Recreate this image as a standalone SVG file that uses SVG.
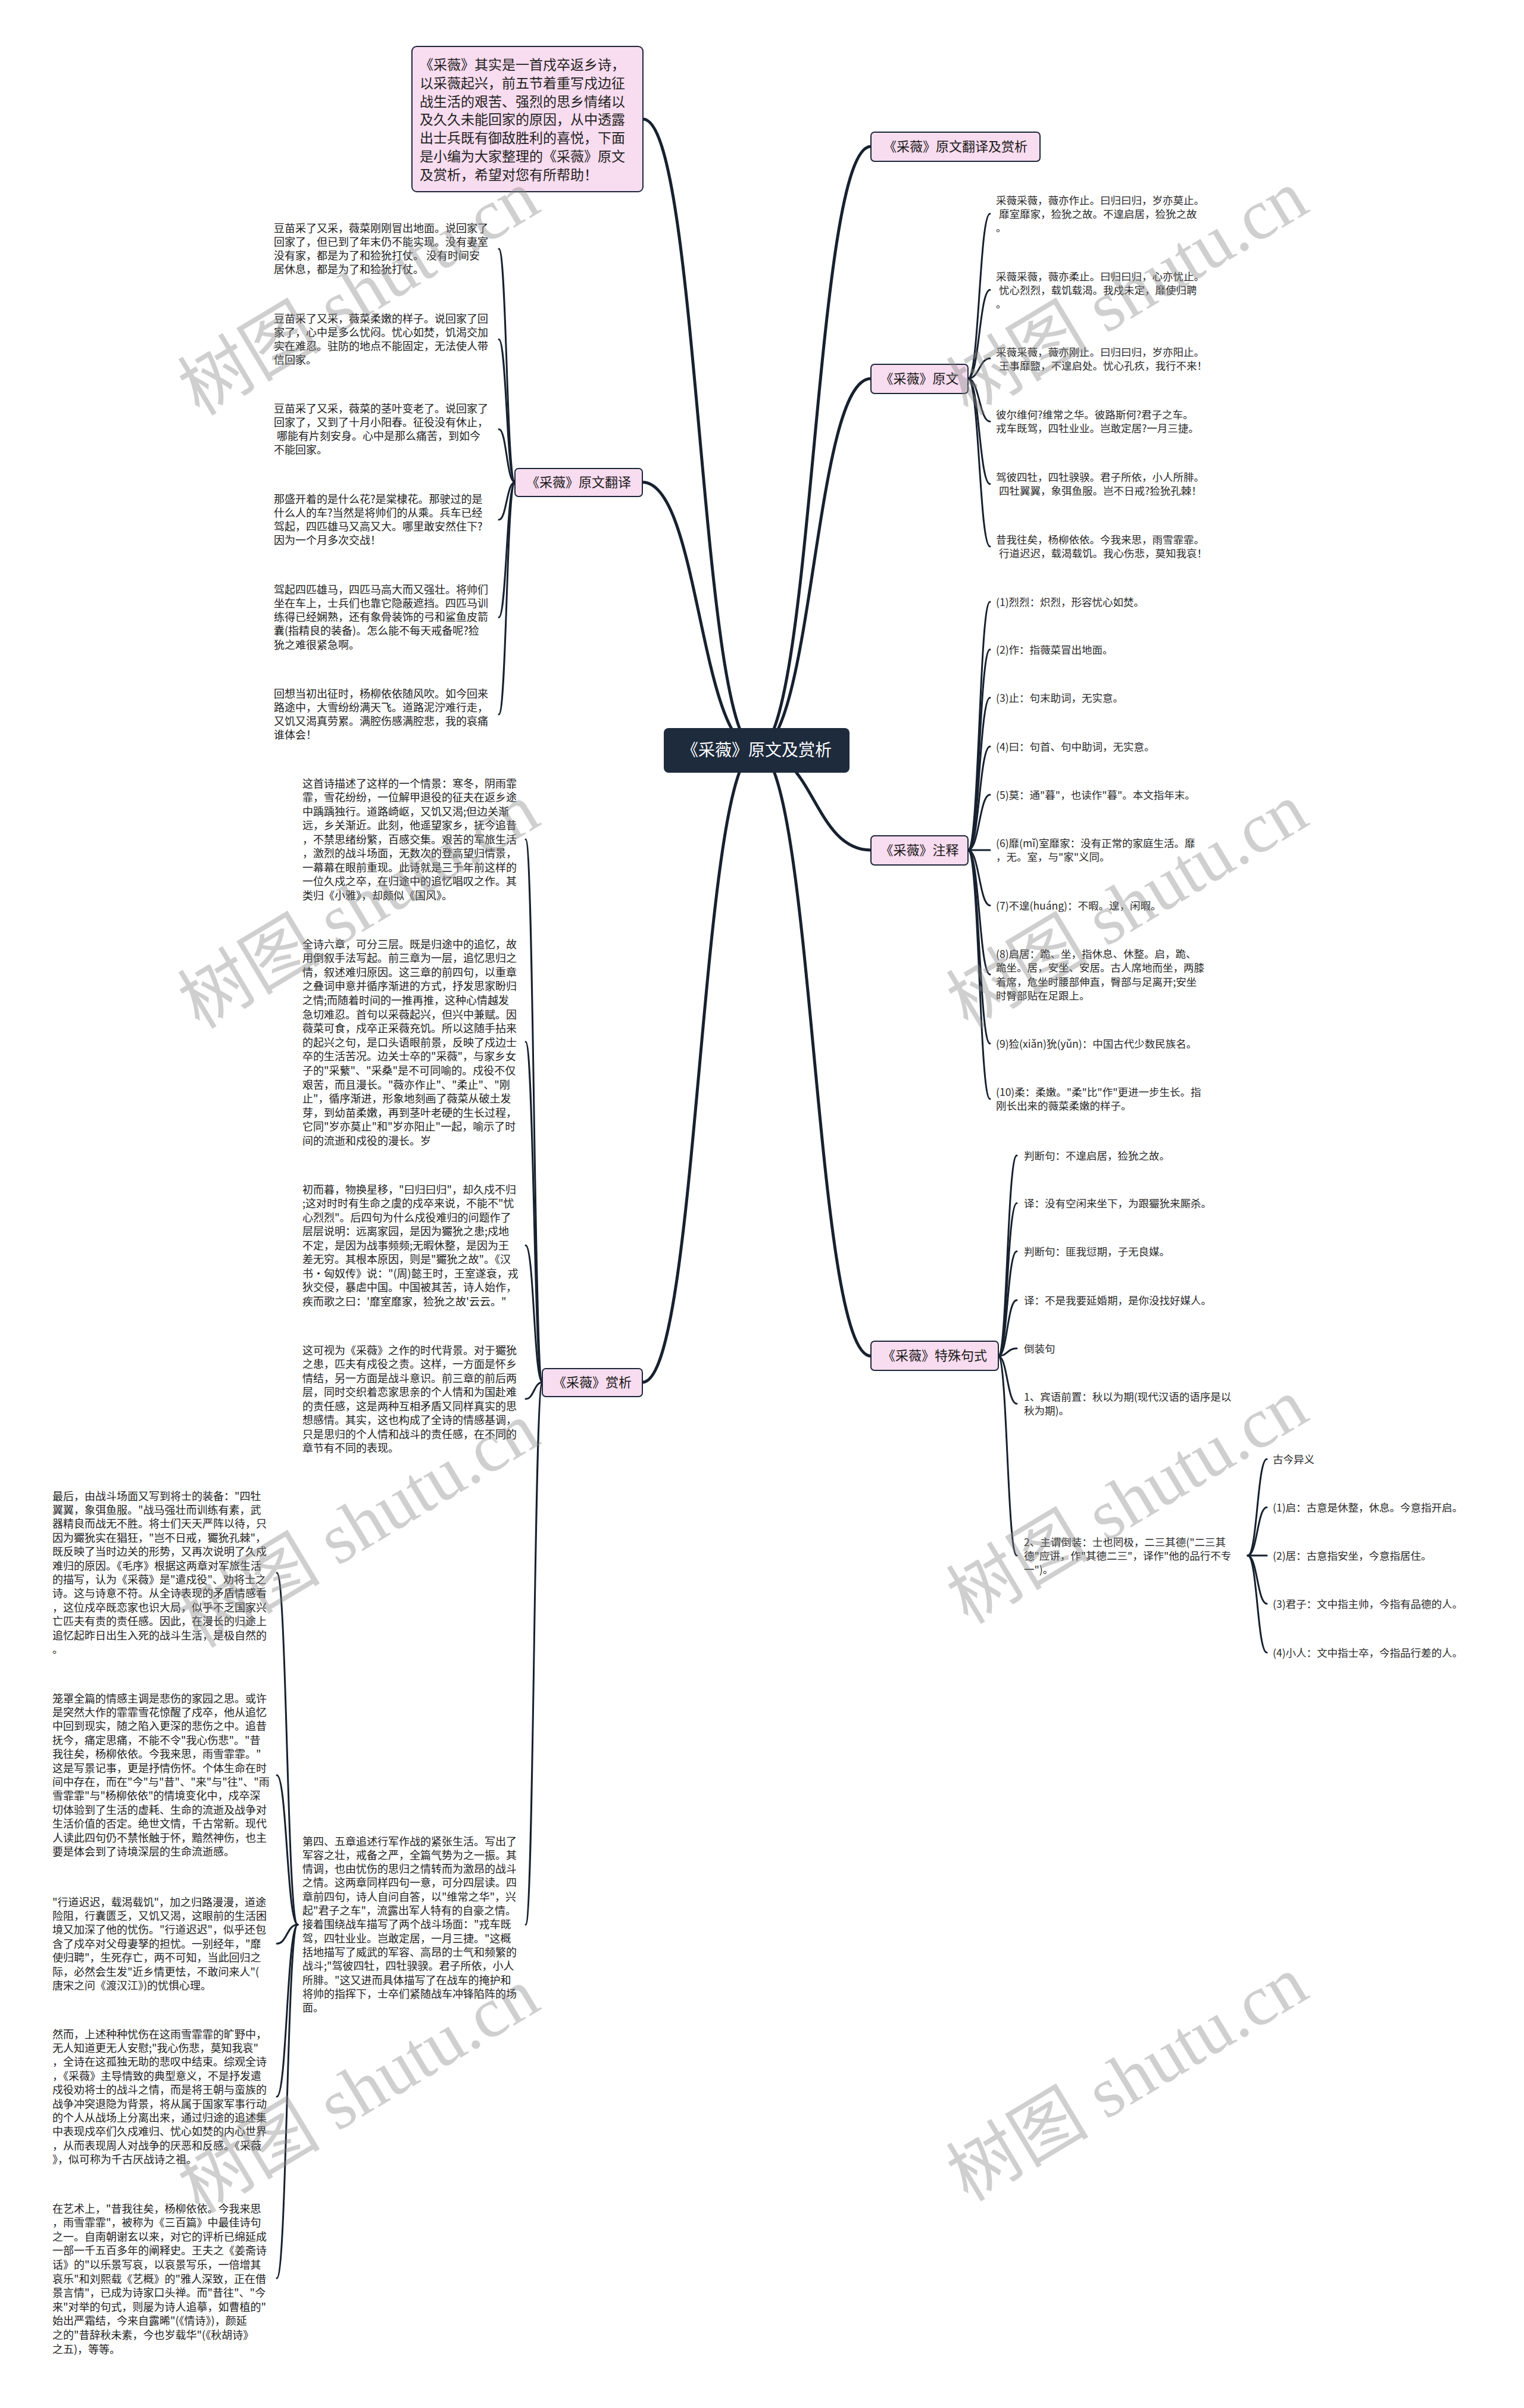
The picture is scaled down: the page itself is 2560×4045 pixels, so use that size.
<svg xmlns="http://www.w3.org/2000/svg" width="2560" height="4045" viewBox="0 0 2560 4045">
<style>
.t{font-family:'Noto Sans CJK SC','Noto Sans',sans-serif;fill:#222}
.s18{font-size:18px}
.s175{font-size:17.5px;fill:#2a2a2a}
.bn rect{fill:#f8dcef;stroke:#1c2738;stroke-width:2}
.bn text{font-family:'Noto Sans CJK SC','Noto Sans',sans-serif;font-size:22px;fill:#1a1a1a}
.c{fill:none;stroke:#17212f;stroke-linecap:round}
.c1{stroke-width:5}
.c2{stroke-width:3}
.wm{font-family:'Liberation Serif','Noto Sans CJK SC',serif;font-size:120px;fill:#888;opacity:0.4}
</style>
<rect width="2560" height="4045" fill="#ffffff"/>
<g id="connectors">
<path class="c c1" d="M1271,1260 C1367,1260 1367,246 1463,246"/>
<path class="c c1" d="M1271,1260 C1367,1260 1367,636 1463,636"/>
<path class="c c1" d="M1271,1260 C1367,1260 1367,1428 1463,1428"/>
<path class="c c1" d="M1271,1260 C1367,1260 1367,2278 1463,2278"/>
<path class="c c1" d="M1271,1260 C1175,1260 1175,200 1080,200"/>
<path class="c c1" d="M1271,1260 C1175,1260 1175,810 1079,810"/>
<path class="c c1" d="M1271,1260 C1175,1260 1175,2322 1079,2322"/>
<g class="c c2">
<path d="M1626,636 C1645,636 1645,359 1663,359"/>
<path d="M1626,636 C1645,636 1645,487 1663,487"/>
<path d="M1626,636 C1645,636 1645,602 1663,602"/>
<path d="M1626,636 C1645,636 1645,708 1663,708"/>
<path d="M1626,636 C1645,636 1645,813 1663,813"/>
<path d="M1626,636 C1645,636 1645,918 1663,918"/>
<path d="M1626,1428 C1645,1428 1645,1011 1663,1011"/>
<path d="M1626,1428 C1645,1428 1645,1091 1663,1091"/>
<path d="M1626,1428 C1645,1428 1645,1172 1663,1172"/>
<path d="M1626,1428 C1645,1428 1645,1254 1663,1254"/>
<path d="M1626,1428 C1645,1428 1645,1335 1663,1335"/>
<path d="M1626,1428 C1645,1428 1645,1428 1663,1428"/>
<path d="M1626,1428 C1645,1428 1645,1521 1663,1521"/>
<path d="M1626,1428 C1645,1428 1645,1637 1663,1637"/>
<path d="M1626,1428 C1645,1428 1645,1753 1663,1753"/>
<path d="M1626,1428 C1645,1428 1645,1846 1663,1846"/>
<path d="M1677,2278 C1692,2278 1692,1941 1708,1941"/>
<path d="M1677,2278 C1692,2278 1692,2021 1708,2021"/>
<path d="M1677,2278 C1692,2278 1692,2102 1708,2102"/>
<path d="M1677,2278 C1692,2278 1692,2184 1708,2184"/>
<path d="M1677,2278 C1692,2278 1692,2265 1708,2265"/>
<path d="M1677,2278 C1692,2278 1692,2358 1708,2358"/>
<path d="M1677,2278 C1692,2278 1692,2613 1708,2613"/>
<path d="M2096,2613 C2112,2613 2112,2451 2128,2451"/>
<path d="M2096,2613 C2112,2613 2112,2532 2128,2532"/>
<path d="M2096,2613 C2112,2613 2112,2613 2128,2613"/>
<path d="M2096,2613 C2112,2613 2112,2694 2128,2694"/>
<path d="M2096,2613 C2112,2613 2112,2776 2128,2776"/>
<path d="M865,810 C851,810 851,418 838,418"/>
<path d="M865,810 C851,810 851,570 838,570"/>
<path d="M865,810 C851,810 851,721 838,721"/>
<path d="M865,810 C851,810 851,873 838,873"/>
<path d="M865,810 C851,810 851,1037 838,1037"/>
<path d="M865,810 C851,810 851,1200 838,1200"/>
<path d="M911,2322 C897,2322 897,1410 883,1410"/>
<path d="M911,2322 C897,2322 897,1750 883,1750"/>
<path d="M911,2322 C897,2322 897,2092 883,2092"/>
<path d="M911,2322 C897,2322 897,2350 883,2350"/>
<path d="M911,2322 C897,2322 897,3233 883,3233"/>
<path d="M500,3233 C482,3233 482,2642 465,2642"/>
<path d="M500,3233 C482,3233 482,2982 465,2982"/>
<path d="M500,3233 C482,3233 482,3265 465,3265"/>
<path d="M500,3233 C482,3233 482,3522 465,3522"/>
<path d="M500,3233 C482,3233 482,3827 465,3827"/>
</g>
</g>

<g id="root">
<rect x="1115" y="1223" width="312" height="75" rx="8" fill="#1e2b3d"/>
<text x="1271" y="1270" text-anchor="middle" font-family="'Noto Sans CJK SC',sans-serif" font-size="28" fill="#ffffff">《采薇》原文及赏析</text>
</g>

<g id="intro">
<rect x="692" y="78" width="388" height="244" rx="8" fill="#f8dcef" stroke="#1c2738" stroke-width="2"/>
<text class="t" font-size="23" x="705" y="117">
<tspan x="705" y="117">《采薇》其实是一首戍卒返乡诗，</tspan>
<tspan x="705" dy="30.8">以采薇起兴，前五节着重写戍边征</tspan>
<tspan x="705" dy="30.8">战生活的艰苦、强烈的思乡情绪以</tspan>
<tspan x="705" dy="30.8">及久久未能回家的原因，从中透露</tspan>
<tspan x="705" dy="30.8">出士兵既有御敌胜利的喜悦，下面</tspan>
<tspan x="705" dy="30.8">是小编为大家整理的《采薇》原文</tspan>
<tspan x="705" dy="30.8">及赏析，希望对您有所帮助！</tspan>
</text>
</g>

<g id="b-fanyi-shangxi" class="bn"><rect x="1463" y="222" width="284" height="49" rx="6"/><text x="1605" y="254" text-anchor="middle">《采薇》原文翻译及赏析</text></g>
<g id="b-yuanwen" class="bn"><rect x="1463" y="612" width="163" height="49" rx="6"/><text x="1544.5" y="644" text-anchor="middle">《采薇》原文</text></g>
<g id="b-zhushi" class="bn"><rect x="1463" y="1404" width="163" height="49" rx="6"/><text x="1544.5" y="1436" text-anchor="middle">《采薇》注释</text></g>
<g id="b-teshu" class="bn"><rect x="1463" y="2253" width="214" height="49" rx="6"/><text x="1570" y="2285" text-anchor="middle">《采薇》特殊句式</text></g>
<g id="b-fanyi" class="bn"><rect x="865" y="787" width="214" height="47" rx="6"/><text x="972" y="818" text-anchor="middle">《采薇》原文翻译</text></g>
<g id="b-shangxi" class="bn"><rect x="911" y="2299" width="168" height="47" rx="6"/><text x="995" y="2330" text-anchor="middle">《采薇》赏析</text></g>

<g id="yuanwen-leaves" class="t s175">
<text id="yw1" x="1673" y="342.5"><tspan x="1673">采薇采薇，薇亦作止。曰归曰归，岁亦莫止。</tspan><tspan x="1678" dy="23.3">靡室靡家，猃狁之故。不遑启居，猃狁之故</tspan><tspan x="1673" dy="23.3">。</tspan></text>
<text id="yw2" x="1673" y="470.5"><tspan x="1673">采薇采薇，薇亦柔止。曰归曰归，心亦忧止。</tspan><tspan x="1678" dy="23.3">忧心烈烈，载饥载渴。我戍未定，靡使归聘</tspan><tspan x="1673" dy="23.3">。</tspan></text>
<text id="yw3" x="1673" y="597.5"><tspan x="1673">采薇采薇，薇亦刚止。曰归曰归，岁亦阳止。</tspan><tspan x="1678" dy="23.3">王事靡盬，不遑启处。忧心孔疚，我行不来！</tspan></text>
<text id="yw4" x="1673" y="702.5"><tspan x="1673">彼尔维何?维常之华。彼路斯何?君子之车。</tspan><tspan x="1673" dy="23.3">戎车既驾，四牡业业。岂敢定居?一月三捷。</tspan></text>
<text id="yw5" x="1673" y="807.5"><tspan x="1673">驾彼四牡，四牡骙骙。君子所依，小人所腓。</tspan><tspan x="1678" dy="23.3">四牡翼翼，象弭鱼服。岂不日戒?猃狁孔棘！</tspan></text>
<text id="yw6" x="1673" y="912.5"><tspan x="1673">昔我往矣，杨柳依依。今我来思，雨雪霏霏。</tspan><tspan x="1678" dy="23.3">行道迟迟，载渴载饥。我心伤悲，莫知我哀！</tspan></text>
</g>

<g id="zhushi-leaves" class="t s175">
<text id="zs1" x="1673" y="1017.5">(1)烈烈：炽烈，形容忧心如焚。</text>
<text id="zs2" x="1673" y="1097.5">(2)作：指薇菜冒出地面。</text>
<text id="zs3" x="1673" y="1178.5">(3)止：句末助词，无实意。</text>
<text id="zs4" x="1673" y="1260.5">(4)曰：句首、句中助词，无实意。</text>
<text id="zs5" x="1673" y="1341.5">(5)莫：通"暮"，也读作"暮"。本文指年末。</text>
<text id="zs6" x="1673" y="1422.5"><tspan x="1673">(6)靡(mǐ)室靡家：没有正常的家庭生活。靡</tspan><tspan x="1673" dy="23.5">，无。室，与"家"义同。</tspan></text>
<text id="zs7" x="1673" y="1527.5">(7)不遑(huáng)：不暇。遑，闲暇。</text>
<text id="zs8" x="1673" y="1608.5"><tspan x="1673">(8)启居：跪、坐，指休息、休整。启，跪、</tspan><tspan x="1673" dy="23.5">跪坐。居，安坐、安居。古人席地而坐，两膝</tspan><tspan x="1673" dy="23.5">着席，危坐时腰部伸直，臀部与足离开;安坐</tspan><tspan x="1673" dy="23.5">时臀部贴在足跟上。</tspan></text>
<text id="zs9" x="1673" y="1759.5">(9)猃(xiǎn)狁(yǔn)：中国古代少数民族名。</text>
<text id="zs10" x="1673" y="1840.5"><tspan x="1673">(10)柔：柔嫩。"柔"比"作"更进一步生长。指</tspan><tspan x="1673" dy="23.5">刚长出来的薇菜柔嫩的样子。</tspan></text>
</g>

<g id="teshu-leaves" class="t s175">
<text id="ts1" x="1720" y="1947.5">判断句：不遑启居，猃狁之故。</text>
<text id="ts2" x="1720" y="2027.5">译：没有空闲来坐下，为跟玁狁来厮杀。</text>
<text id="ts3" x="1720" y="2108.5">判断句：匪我愆期，子无良媒。</text>
<text id="ts4" x="1720" y="2190.5">译：不是我要延婚期，是你没找好媒人。</text>
<text id="ts5" x="1720" y="2271.5">倒装句</text>
<text id="ts6" x="1720" y="2352.5"><tspan x="1720">1、宾语前置：秋以为期(现代汉语的语序是以</tspan><tspan x="1720" dy="23.2">秋为期)。</tspan></text>
<text id="ts7" x="1720" y="2596.5"><tspan x="1720">2、主谓倒装：士也罔极，二三其德("二三其</tspan><tspan x="1720" dy="23.2">德"应讲，作"其德二三"，译作"他的品行不专</tspan><tspan x="1720" dy="23.2">一")。</tspan></text>
<text id="ts8" x="2138" y="2457.5">古今异义</text>
<text id="ts9" x="2138" y="2538.5">(1)启：古意是休整，休息。今意指开启。</text>
<text id="ts10" x="2138" y="2619.5">(2)居：古意指安坐，今意指居住。</text>
<text id="ts11" x="2138" y="2700.5">(3)君子：文中指主帅，今指有品德的人。</text>
<text id="ts12" x="2138" y="2782.5">(4)小人：文中指士卒，今指品行差的人。</text>
</g>

<g id="fanyi-leaves" class="t s18">
<text id="fy1" x="460" y="389.5"><tspan x="460">豆苗采了又采，薇菜刚刚冒出地面。说回家了</tspan><tspan x="460" dy="23.3">回家了，但已到了年末仍不能实现。没有妻室</tspan><tspan x="460" dy="23.3">没有家，都是为了和猃狁打仗。 没有时间安</tspan><tspan x="460" dy="23.3">居休息，都是为了和猃狁打仗。</tspan></text>
<text id="fy2" x="460" y="541.5"><tspan x="460">豆苗采了又采，薇菜柔嫩的样子。说回家了回</tspan><tspan x="460" dy="23.3">家了，心中是多么忧闷。忧心如焚，饥渴交加</tspan><tspan x="460" dy="23.3">实在难忍。驻防的地点不能固定，无法使人带</tspan><tspan x="460" dy="23.3">信回家。</tspan></text>
<text id="fy3" x="460" y="692.5"><tspan x="460">豆苗采了又采，薇菜的茎叶变老了。说回家了</tspan><tspan x="460" dy="23.3">回家了，又到了十月小阳春。征役没有休止，</tspan><tspan x="465" dy="23.3">哪能有片刻安身。心中是那么痛苦，到如今</tspan><tspan x="460" dy="23.3">不能回家。</tspan></text>
<text id="fy4" x="460" y="844.5"><tspan x="460">那盛开着的是什么花?是棠棣花。那驶过的是</tspan><tspan x="460" dy="23.3">什么人的车?当然是将帅们的从乘。兵车已经</tspan><tspan x="460" dy="23.3">驾起，四匹雄马又高又大。哪里敢安然住下?</tspan><tspan x="460" dy="23.3">因为一个月多次交战！</tspan></text>
<text id="fy5" x="460" y="996.5"><tspan x="460">驾起四匹雄马，四匹马高大而又强壮。将帅们</tspan><tspan x="460" dy="23.3">坐在车上，士兵们也靠它隐蔽遮挡。四匹马训</tspan><tspan x="460" dy="23.3">练得已经娴熟，还有象骨装饰的弓和鲨鱼皮箭</tspan><tspan x="460" dy="23.3">囊(指精良的装备)。怎么能不每天戒备呢?猃</tspan><tspan x="460" dy="23.3">狁之难很紧急啊。</tspan></text>
<text id="fy6" x="460" y="1171.5"><tspan x="460">回想当初出征时，杨柳依依随风吹。如今回来</tspan><tspan x="460" dy="23.3">路途中，大雪纷纷满天飞。道路泥泞难行走，</tspan><tspan x="460" dy="23.3">又饥又渴真劳累。满腔伤感满腔悲，我的哀痛</tspan><tspan x="460" dy="23.3">谁体会！</tspan></text>
</g>

<g id="shangxi-leaves" class="t s18">
<text id="sx1" x="508" y="1322.5"><tspan x="508">这首诗描述了这样的一个情景：寒冬，阴雨霏</tspan><tspan x="508" dy="23.5">霏，雪花纷纷，一位解甲退役的征夫在返乡途</tspan><tspan x="508" dy="23.5">中踽踽独行。道路崎岖，又饥又渴;但边关渐</tspan><tspan x="508" dy="23.5">远，乡关渐近。此刻，他遥望家乡，抚今追昔</tspan><tspan x="508" dy="23.5">，不禁思绪纷繁，百感交集。艰苦的军旅生活</tspan><tspan x="508" dy="23.5">，激烈的战斗场面，无数次的登高望归情景，</tspan><tspan x="508" dy="23.5">一幕幕在眼前重现。此诗就是三千年前这样的</tspan><tspan x="508" dy="23.5">一位久戍之卒，在归途中的追忆唱叹之作。其</tspan><tspan x="508" dy="23.5">类归《小雅》，却颇似《国风》。</tspan></text>
<text id="sx2" x="508" y="1592.5"><tspan x="508">全诗六章，可分三层。既是归途中的追忆，故</tspan><tspan x="508" dy="23.6">用倒叙手法写起。前三章为一层，追忆思归之</tspan><tspan x="508" dy="23.6">情，叙述难归原因。这三章的前四句，以重章</tspan><tspan x="508" dy="23.6">之叠词申意并循序渐进的方式，抒发思家盼归</tspan><tspan x="508" dy="23.6">之情;而随着时间的一推再推，这种心情越发</tspan><tspan x="508" dy="23.6">急切难忍。首句以采薇起兴，但兴中兼赋。因</tspan><tspan x="508" dy="23.6">薇菜可食，戍卒正采薇充饥。所以这随手拈来</tspan><tspan x="508" dy="23.6">的起兴之句，是口头语眼前景，反映了戍边士</tspan><tspan x="508" dy="23.6">卒的生活苦况。边关士卒的"采薇"，与家乡女</tspan><tspan x="508" dy="23.6">子的"采蘩"、"采桑"是不可同喻的。戍役不仅</tspan><tspan x="508" dy="23.6">艰苦，而且漫长。"薇亦作止"、"柔止"、"刚</tspan><tspan x="508" dy="23.6">止"，循序渐进，形象地刻画了薇菜从破土发</tspan><tspan x="508" dy="23.6">芽，到幼苗柔嫩，再到茎叶老硬的生长过程，</tspan><tspan x="508" dy="23.6">它同"岁亦莫止"和"岁亦阳止"一起，喻示了时</tspan><tspan x="508" dy="23.6">间的流逝和戍役的漫长。岁</tspan></text>
<text id="sx3" x="508" y="2004.5"><tspan x="508">初而暮，物换星移，"曰归曰归"，却久戍不归</tspan><tspan x="508" dy="23.5">;这对时时有生命之虞的戍卒来说，不能不"忧</tspan><tspan x="508" dy="23.5">心烈烈"。后四句为什么戍役难归的问题作了</tspan><tspan x="508" dy="23.5">层层说明：远离家园，是因为玁狁之患;戍地</tspan><tspan x="508" dy="23.5">不定，是因为战事频频;无暇休整，是因为王</tspan><tspan x="508" dy="23.5">差无穷。其根本原因，则是"玁狁之故"。《汉</tspan><tspan x="508" dy="23.5">书·匈奴传》说："(周)懿王时，王室遂衰，戎</tspan><tspan x="508" dy="23.5">狄交侵，暴虐中国。中国被其苦，诗人始作，</tspan><tspan x="508" dy="23.5">疾而歌之曰：'靡室靡家，猃狁之故'云云。"</tspan></text>
<text id="sx4" x="508" y="2274.5"><tspan x="508">这可视为《采薇》之作的时代背景。对于玁狁</tspan><tspan x="508" dy="23.5">之患，匹夫有戍役之责。这样，一方面是怀乡</tspan><tspan x="508" dy="23.5">情结，另一方面是战斗意识。前三章的前后两</tspan><tspan x="508" dy="23.5">层，同时交织着恋家思亲的个人情和为国赴难</tspan><tspan x="508" dy="23.5">的责任感，这是两种互相矛盾又同样真实的思</tspan><tspan x="508" dy="23.5">想感情。其实，这也构成了全诗的情感基调，</tspan><tspan x="508" dy="23.5">只是思归的个人情和战斗的责任感，在不同的</tspan><tspan x="508" dy="23.5">章节有不同的表现。</tspan></text>
<text id="sx5" x="508" y="3099.5"><tspan x="508">第四、五章追述行军作战的紧张生活。写出了</tspan><tspan x="508" dy="23.3">军容之壮，戒备之严，全篇气势为之一振。其</tspan><tspan x="508" dy="23.3">情调，也由忧伤的思归之情转而为激昂的战斗</tspan><tspan x="508" dy="23.3">之情。这两章同样四句一意，可分四层读。四</tspan><tspan x="508" dy="23.3">章前四句，诗人自问自答，以"维常之华"，兴</tspan><tspan x="508" dy="23.3">起"君子之车"，流露出军人特有的自豪之情。</tspan><tspan x="508" dy="23.3">接着围绕战车描写了两个战斗场面："戎车既</tspan><tspan x="508" dy="23.3">驾，四牡业业。岂敢定居，一月三捷。"这概</tspan><tspan x="508" dy="23.3">括地描写了威武的军容、高昂的士气和频繁的</tspan><tspan x="508" dy="23.3">战斗;"驾彼四牡，四牡骙骙。君子所依，小人</tspan><tspan x="508" dy="23.3">所腓。"这又进而具体描写了在战车的掩护和</tspan><tspan x="508" dy="23.3">将帅的指挥下，士卒们紧随战车冲锋陷阵的场</tspan><tspan x="508" dy="23.3">面。</tspan></text>
</g>

<g id="shangxi-k-leaves" class="t s18">
<text id="sx6" x="88" y="2519.5"><tspan x="88">最后，由战斗场面又写到将士的装备："四牡</tspan><tspan x="88" dy="23.4">翼翼，象弭鱼服。"战马强壮而训练有素，武</tspan><tspan x="88" dy="23.4">器精良而战无不胜。将士们天天严阵以待，只</tspan><tspan x="88" dy="23.4">因为玁狁实在猖狂，"岂不日戒，玁狁孔棘"，</tspan><tspan x="88" dy="23.4">既反映了当时边关的形势，又再次说明了久戍</tspan><tspan x="88" dy="23.4">难归的原因。《毛序》根据这两章对军旅生活</tspan><tspan x="88" dy="23.4">的描写，认为《采薇》是"遣戍役"、劝将士之</tspan><tspan x="88" dy="23.4">诗。这与诗意不符。从全诗表现的矛盾情感看</tspan><tspan x="88" dy="23.4">，这位戍卒既恋家也识大局，似乎不乏国家兴</tspan><tspan x="88" dy="23.4">亡匹夫有责的责任感。因此，在漫长的归途上</tspan><tspan x="88" dy="23.4">追忆起昨日出生入死的战斗生活，是极自然的</tspan><tspan x="88" dy="23.4">。</tspan></text>
<text id="sx7" x="88" y="2859.5"><tspan x="88">笼罩全篇的情感主调是悲伤的家园之思。或许</tspan><tspan x="88" dy="23.4">是突然大作的霏霏雪花惊醒了戍卒，他从追忆</tspan><tspan x="88" dy="23.4">中回到现实，随之陷入更深的悲伤之中。追昔</tspan><tspan x="88" dy="23.4">抚今，痛定思痛，不能不令"我心伤悲"。"昔</tspan><tspan x="88" dy="23.4">我往矣，杨柳依依。今我来思，雨雪霏霏。"</tspan><tspan x="88" dy="23.4">这是写景记事，更是抒情伤怀。个体生命在时</tspan><tspan x="88" dy="23.4">间中存在，而在"今"与"昔"、"来"与"往"、"雨</tspan><tspan x="88" dy="23.4">雪霏霏"与"杨柳依依"的情境变化中，戍卒深</tspan><tspan x="88" dy="23.4">切体验到了生活的虚耗、生命的流逝及战争对</tspan><tspan x="88" dy="23.4">生活价值的否定。绝世文情，千古常新。现代</tspan><tspan x="88" dy="23.4">人读此四句仍不禁怅触于怀，黯然神伤，也主</tspan><tspan x="88" dy="23.4">要是体会到了诗境深层的生命流逝感。</tspan></text>
<text id="sx8" x="88" y="3201.5"><tspan x="88">"行道迟迟，载渴载饥"，加之归路漫漫，道途</tspan><tspan x="88" dy="23.4">险阻，行囊匮乏，又饥又渴，这眼前的生活困</tspan><tspan x="88" dy="23.4">境又加深了他的忧伤。"行道迟迟"，似乎还包</tspan><tspan x="88" dy="23.4">含了戍卒对父母妻孥的担忧。一别经年，"靡</tspan><tspan x="88" dy="23.4">使归聘"，生死存亡，两不可知，当此回归之</tspan><tspan x="88" dy="23.4">际，必然会生发"近乡情更怯，不敢问来人"(</tspan><tspan x="88" dy="23.4">唐宋之问《渡汉江》)的忧惧心理。</tspan></text>
<text id="sx9" x="88" y="3423.5"><tspan x="88">然而，上述种种忧伤在这雨雪霏霏的旷野中，</tspan><tspan x="88" dy="23.4">无人知道更无人安慰;"我心伤悲，莫知我哀"</tspan><tspan x="88" dy="23.4">，全诗在这孤独无助的悲叹中结束。综观全诗</tspan><tspan x="88" dy="23.4">，《采薇》主导情致的典型意义，不是抒发遣</tspan><tspan x="88" dy="23.4">戍役劝将士的战斗之情，而是将王朝与蛮族的</tspan><tspan x="88" dy="23.4">战争冲突退隐为背景，将从属于国家军事行动</tspan><tspan x="88" dy="23.4">的个人从战场上分离出来，通过归途的追述集</tspan><tspan x="88" dy="23.4">中表现戍卒们久戍难归、忧心如焚的内心世界</tspan><tspan x="88" dy="23.4">，从而表现周人对战争的厌恶和反感。《采薇</tspan><tspan x="88" dy="23.4">》，似可称为千古厌战诗之祖。</tspan></text>
<text id="sx10" x="88" y="3716.5"><tspan x="88">在艺术上，"昔我往矣，杨柳依依。今我来思</tspan><tspan x="88" dy="23.6">，雨雪霏霏"，被称为《三百篇》中最佳诗句</tspan><tspan x="88" dy="23.6">之一。自南朝谢玄以来，对它的评析已绵延成</tspan><tspan x="88" dy="23.6">一部一千五百多年的阐释史。王夫之《姜斋诗</tspan><tspan x="88" dy="23.6">话》的"以乐景写哀，以哀景写乐，一倍增其</tspan><tspan x="88" dy="23.6">哀乐"和刘熙载《艺概》的"雅人深致，正在借</tspan><tspan x="88" dy="23.6">景言情"，已成为诗家口头禅。而"昔往"、"今</tspan><tspan x="88" dy="23.6">来"对举的句式，则屡为诗人追摹，如曹植的"</tspan><tspan x="88" dy="23.6">始出严霜结，今来自露晞"(《情诗》)，颜延</tspan><tspan x="88" dy="23.6">之的"昔辞秋未素，今也岁载华"(《秋胡诗》</tspan><tspan x="88" dy="23.6">之五)，等等。</tspan></text>
</g>

<g id="watermarks">
<text class="wm" transform="translate(335,700) rotate(-31)">树图 shutu.cn</text>
<text class="wm" transform="translate(1626,700) rotate(-31)">树图 shutu.cn</text>
<text class="wm" transform="translate(335,1730) rotate(-31)">树图 shutu.cn</text>
<text class="wm" transform="translate(1626,1730) rotate(-31)">树图 shutu.cn</text>
<text class="wm" transform="translate(335,2770) rotate(-31)">树图 shutu.cn</text>
<text class="wm" transform="translate(1626,2730) rotate(-31)">树图 shutu.cn</text>
<text class="wm" transform="translate(335,3720) rotate(-31)">树图 shutu.cn</text>
<text class="wm" transform="translate(1626,3700) rotate(-31)">树图 shutu.cn</text>
</g>
</svg>
